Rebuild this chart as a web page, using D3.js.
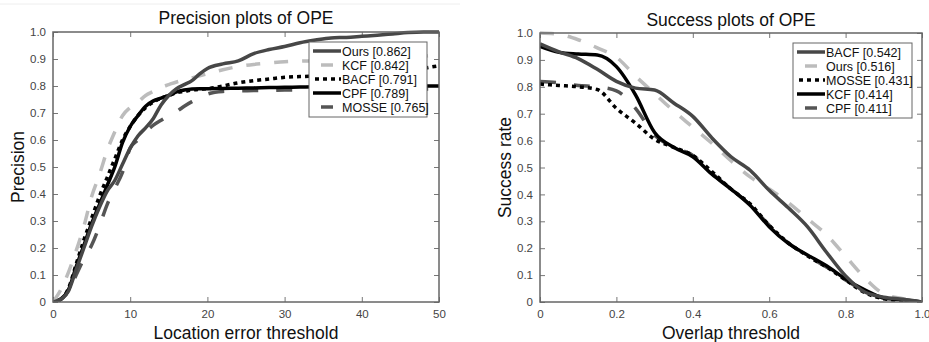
<!DOCTYPE html>
<html><head><meta charset="utf-8">
<script src="https://cdn.jsdelivr.net/npm/d3@7/dist/d3.min.js"></script>
<style>
html,body{margin:0;padding:0;background:#fff;}
svg{display:block;font-family:"Liberation Sans",Arial,sans-serif;}
</style></head>
<body><svg id="c" width="929" height="342"></svg>
<script>
// ---- Data ----
const precX = [0,1,2,3,4,5,6,7,8,9,10,11,12,13,14,15,16,17,18,19,20,22,24,26,28,30,32,34,36,38,40,42,44,46,48,50];
const precOurs  = [0,0.01,0.04,0.12,0.2,0.28,0.35,0.41,0.45,0.51,0.57,0.615,0.645,0.68,0.73,0.765,0.79,0.805,0.82,0.845,0.865,0.882,0.893,0.92,0.935,0.946,0.96,0.97,0.978,0.98,0.984,0.988,0.993,0.998,1.0,1.0];
const precKCF   = [0,0.045,0.11,0.19,0.28,0.39,0.47,0.56,0.63,0.69,0.72,0.74,0.765,0.78,0.795,0.805,0.815,0.822,0.83,0.838,0.845,0.86,0.872,0.88,0.885,0.89,0.892,0.894,0.896,0.898,0.9,0.902,0.905,0.907,0.91,0.92];
const precBACF  = [0,0.01,0.05,0.14,0.23,0.31,0.39,0.46,0.53,0.6,0.65,0.69,0.72,0.74,0.755,0.765,0.775,0.78,0.785,0.788,0.79,0.8,0.812,0.82,0.826,0.832,0.835,0.836,0.837,0.838,0.84,0.843,0.847,0.852,0.865,0.875];
const precCPF   = [0,0.01,0.045,0.13,0.21,0.29,0.36,0.43,0.5,0.59,0.65,0.69,0.725,0.745,0.755,0.765,0.778,0.785,0.789,0.79,0.79,0.791,0.792,0.793,0.794,0.795,0.796,0.797,0.797,0.798,0.8,0.8,0.8,0.8,0.8,0.8];
const precMOSSE = [0,0.01,0.04,0.1,0.16,0.21,0.28,0.36,0.42,0.48,0.57,0.6,0.63,0.655,0.673,0.69,0.705,0.725,0.742,0.755,0.77,0.78,0.782,0.783,0.784,0.785,0.785,0.786,0.786,0.787,0.787,0.788,0.788,0.789,0.789,0.79];
const precLabels = ["Ours [0.862]","KCF [0.842]","BACF [0.791]","CPF [0.789]","MOSSE [0.765]"];

const succX = [0,0.05,0.1,0.15,0.2,0.25,0.3,0.35,0.4,0.45,0.5,0.55,0.6,0.65,0.7,0.75,0.8,0.85,0.9,0.95,1.0];
const succBACF  = [0.96,0.93,0.905,0.865,0.82,0.795,0.788,0.74,0.69,0.61,0.54,0.49,0.415,0.35,0.28,0.185,0.097,0.037,0.018,0.01,0];
const succOurs  = [1.0,0.995,0.975,0.945,0.91,0.84,0.775,0.71,0.65,0.59,0.525,0.465,0.42,0.37,0.31,0.25,0.17,0.09,0.03,0.012,0];
const succMOSSE = [0.81,0.805,0.8,0.79,0.72,0.665,0.605,0.575,0.545,0.485,0.42,0.365,0.285,0.22,0.172,0.13,0.082,0.035,0.012,0.005,0];
const succKCF   = [0.95,0.928,0.922,0.918,0.875,0.77,0.63,0.575,0.54,0.475,0.42,0.36,0.28,0.218,0.175,0.135,0.085,0.045,0.015,0.008,0];
const succCPF   = [0.82,0.815,0.805,0.8,0.785,0.72,0.62,0.575,0.545,0.478,0.42,0.36,0.285,0.22,0.172,0.13,0.082,0.04,0.015,0.005,0];
const succLabels = ["BACF [0.542]","Ours [0.516]","MOSSE [0.431]","KCF [0.414]","CPF [0.411]"];

const precXTicks = [0,10,20,30,40,50];
const yTicks = [0,0.1,0.2,0.3,0.4,0.5,0.6,0.7,0.8,0.9,1.0];
const succXTicks = [0,0.2,0.4,0.6,0.8,1.0];

// ---- Styles ----
const ST = {
  solidDark: {color:"#474747", dash:null, w:3.5},
  dashLight: {color:"#bcbcbc", dash:"14,14", w:3.5},
  dotBlack:  {color:"#000", dash:"4,4", w:3.5},
  solidBlack:{color:"#000", dash:null, w:3.5},
  dashDark:  {color:"#555", dash:"16,18", w:3.5}
};

const svg = d3.select("#c");
svg.append("line").attr("x1",0).attr("x2",460).attr("y1",4).attr("y2",4).attr("stroke","#eee");

function panel(cfg){
  const g = svg.append("g");
  const x = d3.scaleLinear().domain(cfg.xDomain).range([cfg.left, cfg.right]);
  const y = d3.scaleLinear().domain([0,1]).range([cfg.bottom, cfg.top]);
  const fmtY = v => v===0 ? "0" : d3.format(".1f")(v);
  const axB = g.append("g").attr("transform",`translate(0,${cfg.bottom})`)
    .call(d3.axisBottom(x).tickValues(cfg.xTicks).tickSizeInner(-5).tickSizeOuter(0).tickPadding(8).tickFormat(cfg.xFmt));
  const axT = g.append("g").attr("transform",`translate(0,${cfg.top})`)
    .call(d3.axisTop(x).tickValues(cfg.xTicks).tickSizeInner(-5).tickSizeOuter(0).tickFormat(""));
  const axL = g.append("g").attr("transform",`translate(${cfg.left},0)`)
    .call(d3.axisLeft(y).tickValues(yTicks).tickSizeInner(-5).tickSizeOuter(0).tickPadding(7).tickFormat(fmtY));
  const axR = g.append("g").attr("transform",`translate(${cfg.right},0)`)
    .call(d3.axisRight(y).tickValues(yTicks).tickSizeInner(-5).tickSizeOuter(0).tickFormat(""));
  [axB,axT,axL,axR].forEach(a=>{
    a.select(".domain").remove();
    a.selectAll(".tick line").attr("stroke","#777");
    a.selectAll(".tick text").attr("fill","#444").style("font-size","11.5px").style("font-family","Liberation Sans, Arial, sans-serif");
  });
  const clipId = "clip"+cfg.id;
  g.append("clipPath").attr("id",clipId).append("rect")
    .attr("x",cfg.left).attr("y",cfg.top-3).attr("width",cfg.right-cfg.left).attr("height",cfg.bottom-cfg.top+3);
  const line = d3.line().x(d=>x(d[0])).y(d=>y(d[1])).curve(d3.curveMonotoneX);
  const lg = g.append("g").attr("clip-path",`url(#${clipId})`);
  cfg.series.slice().reverse().forEach(s=>{
    const pts = cfg.xs.map((v,i)=>[v,s.vals[i]]);
    lg.append("path").datum(pts).attr("d",line).attr("fill","none")
      .attr("stroke",s.st.color).attr("stroke-width",s.st.w)
      .attr("stroke-dasharray",s.st.dash).attr("stroke-linejoin","round");
  });
  g.append("rect").attr("x",cfg.left).attr("y",cfg.top).attr("width",cfg.right-cfg.left).attr("height",cfg.bottom-cfg.top)
    .attr("fill","none").attr("stroke","#666").attr("stroke-width",1.5);
  g.append("text").attr("x",(cfg.left+cfg.right)/2).attr("y",cfg.titleY).attr("text-anchor","middle")
    .style("font-size","17.5px").attr("fill","#111").text(cfg.title);
  g.append("text").attr("x",(cfg.left+cfg.right)/2).attr("y",cfg.bottom+37).attr("text-anchor","middle")
    .style("font-size","17.5px").attr("fill","#111").text(cfg.xLabel);
  g.append("text").attr("transform",`translate(${cfg.yLabelX},${(cfg.top+cfg.bottom)/2}) rotate(-90)`).attr("text-anchor","middle")
    .style("font-size","17.5px").attr("fill","#111").text(cfg.yLabel);
  const L = cfg.legend;
  const lgd = g.append("g");
  lgd.append("rect").attr("x",L.x).attr("y",L.y).attr("width",L.w).attr("height",L.h)
    .attr("fill","#fff").attr("stroke","#666").attr("stroke-width",1);
  cfg.series.forEach((s,i)=>{
    const yy = L.y + 9 + i*L.step;
    lgd.append("line").attr("x1",L.x+4).attr("x2",L.x+32).attr("y1",yy).attr("y2",yy)
      .attr("stroke",s.st.color).attr("stroke-width",s.st.w)
      .attr("stroke-dasharray",s.st.dash ? (s.st.dash==="4,4" ? "4,4" : "12,40") : null)
      .attr("stroke-dashoffset",s.st.dash ? (s.st.dash==="4,4" ? -2 : -8) : null);
    lgd.append("text").attr("x",L.x+33).attr("y",yy+4.5).style("font-size","12.5px").attr("fill","#111").text(s.label);
  });
}

panel({
  id:"p", left:53, right:439, top:32, bottom:302, titleY:24,
  xDomain:[0,50], xTicks:precXTicks, xFmt:d3.format("d"), xs:precX,
  title:"Precision plots of OPE", xLabel:"Location error threshold", yLabel:"Precision", yLabelX:24,
  legend:{x:309,y:42,w:118,h:75,step:14},
  series:[
    {label:precLabels[0], vals:precOurs, st:ST.solidDark},
    {label:precLabels[1], vals:precKCF, st:ST.dashLight},
    {label:precLabels[2], vals:precBACF, st:ST.dotBlack},
    {label:precLabels[3], vals:precCPF, st:ST.solidBlack},
    {label:precLabels[4], vals:precMOSSE, st:ST.dashDark}
  ]
});
panel({
  id:"s", left:540, right:922, top:33, bottom:302, titleY:26,
  xDomain:[0,1], xTicks:succXTicks, xFmt:(v=> v===0?"0":d3.format(".1f")(v)), xs:succX,
  title:"Success plots of OPE", xLabel:"Overlap threshold", yLabel:"Success rate", yLabelX:511,
  legend:{x:793,y:43,w:119,h:75,step:14},
  series:[
    {label:succLabels[0], vals:succBACF, st:ST.solidDark},
    {label:succLabels[1], vals:succOurs, st:ST.dashLight},
    {label:succLabels[2], vals:succMOSSE, st:ST.dotBlack},
    {label:succLabels[3], vals:succKCF, st:ST.solidBlack},
    {label:succLabels[4], vals:succCPF, st:ST.dashDark}
  ]
});
</script></body></html>
